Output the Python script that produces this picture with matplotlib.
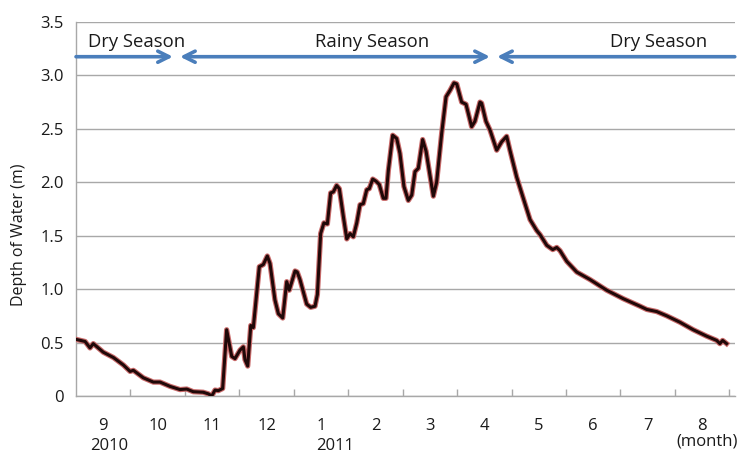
import matplotlib
matplotlib.use("Agg")
import matplotlib.pyplot as plt
import matplotlib.transforms as mtransforms

# ---- data (x in day-index units, 30 per month from the start of September 2010) ----
day = [0, 5.0, 7.7, 9.5, 15.0, 20.6, 26.1, 29.8, 31.6, 37.1, 42.6, 46.3, 51.8, 57.3,
       61.0, 64.6, 70.1, 72.9, 74.8, 76.6, 78.4, 80.8, 83.0, 85.8, 87.6, 90.4, 92.2,
       93.1, 94.6, 96.3, 97.7, 101.0, 103.2, 105.4, 106.9, 109.6, 111.5, 113.9, 116.1,
       117.5, 120.7, 121.9, 123.4, 127.1, 129.3, 131.7, 133.0, 134.8, 136.6, 138.5,
       140.3, 141.8, 143.6, 145.1, 147.3, 149.2, 151.0, 152.8, 154.7, 156.5, 158.3,
       160.2, 161.6, 163.5, 165.3, 167.1, 169.3, 170.8, 172.1, 174.5, 176.7, 178.5,
       180.7, 183.1, 185.0, 186.8, 188.6, 191.0, 192.9, 196.9, 198.7, 201.5, 203.9,
       206.1, 208.3, 209.8, 212.5, 214.9, 218.0, 219.8, 222.6, 223.5, 225.9, 228.1,
       231.8, 234.6, 237.3, 239.1, 242.8, 247.4, 250.2, 253.8, 255.7, 259.4, 262.7,
       264.9, 266.7, 270.4, 275.9, 283.2, 292.4, 301.6, 310.8, 314.5, 320.0, 325.5,
       332.8, 340.1, 347.5, 353.0, 354.8, 356.3, 358.5]
depth = [0.53, 0.51, 0.45, 0.49, 0.41, 0.36, 0.29, 0.23, 0.24, 0.17, 0.13, 0.13, 0.09, 0.06,
         0.065, 0.04, 0.035, 0.02, 0.00, 0.055, 0.05, 0.07, 0.62, 0.37, 0.35, 0.43, 0.46,
         0.34, 0.28, 0.66, 0.64, 1.21, 1.23, 1.31, 1.24, 0.90, 0.77, 0.73, 1.07,
         0.99, 1.17, 1.16, 1.09, 0.86, 0.83, 0.84, 0.95, 1.52, 1.62, 1.61,
         1.90, 1.91, 1.97, 1.94, 1.68, 1.47, 1.52, 1.49, 1.62, 1.79, 1.80,
         1.93, 1.94, 2.03, 2.01, 1.98, 1.85, 1.85, 2.11, 2.44, 2.41, 2.27,
         1.96, 1.83, 1.88, 2.10, 2.13, 2.40, 2.29, 1.87, 2.00, 2.46, 2.80,
         2.86, 2.93, 2.92, 2.75, 2.73, 2.52, 2.57, 2.75, 2.74, 2.57, 2.49,
         2.30, 2.38, 2.43, 2.30, 2.05, 1.80, 1.65, 1.55, 1.51, 1.41, 1.37,
         1.39, 1.36, 1.26, 1.16, 1.09, 0.99, 0.91, 0.84, 0.81, 0.79, 0.75,
         0.69, 0.62, 0.56, 0.52, 0.49, 0.52, 0.49]

month_labels = ["9", "10", "11", "12", "1", "2", "3", "4", "5", "6", "7", "8"]
month_ticks = [30, 60, 90, 120, 150, 180, 210, 240, 270, 300, 330, 360]
year_labels = ["2010", "2011"]
year_pos = [18, 143]
y_ticks = [0, 0.5, 1.0, 1.5, 2.0, 2.5, 3.0, 3.5]
y_tick_labels = ["0", "0.5", "1.0", "1.5", "2.0", "2.5", "3.0", "3.5"]

season_labels = ["Dry Season", "Rainy Season", "Dry Season"]
season_text_x = [6.6, 163, 321]
season_spans = [(0, 53.4), (57.3, 228.1), (232.0, 363)]
season_styles = ["->", "<->", "<-"]

plt.rcParams['font.family'] = ['Open Sans', 'DejaVu Sans']

fig = plt.figure(figsize=(7.49, 4.57), dpi=100)
ax = fig.add_axes([0.1015, 0.1335, 0.8795, 0.8184])

grid_c = '#a8a8a8'
txt_c = '#1a1a1a'
ax.set_xlim(0, 363)
ax.set_ylim(0, 3.5)
ax.set_yticks(y_ticks)
ax.set_yticklabels(y_tick_labels)
ax.yaxis.grid(True, color=grid_c, lw=1)
ax.set_axisbelow(True)

for s in ['top', 'right']:
    ax.spines[s].set_visible(False)
for s in ['left', 'bottom']:
    ax.spines[s].set_color(grid_c)
    ax.spines[s].set_linewidth(1)

ax.tick_params(axis='y', length=0, pad=9, labelsize=12, labelcolor=txt_c)
ax.set_xticks(month_ticks, minor=True)
ax.tick_params(axis='x', which='minor', direction='in', length=5, color=grid_c, width=1)
mids = [t - 15 for t in month_ticks]
ax.set_xticks(mids)
ax.set_xticklabels(month_labels)
ax.tick_params(axis='x', which='major', length=0, pad=16, labelsize=12, labelcolor=txt_c)

ax.set_ylabel("Depth of Water (m)", fontsize=11.5, color=txt_c)
ax.yaxis.set_label_coords(-0.074, 0.43)

# line with reddish halo
ax.plot(day, depth, color='#c86a6a', lw=3.8, solid_joinstyle='round', zorder=3)
ax.plot(day, depth, color='#200808', lw=2.2, solid_joinstyle='round', zorder=4)

# season arrows
arrow_c = '#4a7ebb'
for (x0, x1), st in zip(season_spans, season_styles):
    ax.annotate("", xy=(x1, 3.175), xytext=(x0, 3.175),
                arrowprops=dict(arrowstyle=st, color=arrow_c, lw=2.6,
                                mutation_scale=20, shrinkA=0, shrinkB=0),
                annotation_clip=False, zorder=5)
ax.text(season_text_x[0], 3.315, season_labels[0], ha='left', va='center', fontsize=13.3, color=txt_c)
ax.text(season_text_x[1], 3.315, season_labels[1], ha='center', va='center', fontsize=13.3, color=txt_c)
ax.text(season_text_x[2], 3.315, season_labels[2], ha='center', va='center', fontsize=13.3, color=txt_c)

trans = mtransforms.blended_transform_factory(ax.transData, ax.transAxes)
for lab, xp in zip(year_labels, year_pos):
    ax.text(xp, -0.134, lab, transform=trans, ha='center', va='center', fontsize=12, color=txt_c)
ax.text(347.7, -0.123, "(month)", transform=trans, ha='center', va='center', fontsize=12, color=txt_c)

fig.savefig("out.png", dpi=100)
